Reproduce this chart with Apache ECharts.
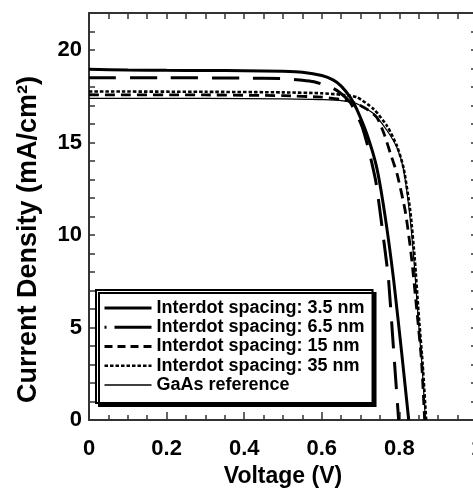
<!DOCTYPE html>
<html>
<head>
<meta charset="utf-8">
<script src="https://cdn.jsdelivr.net/npm/echarts@6/dist/echarts.min.js"></script>
<style>
  html, body { margin: 0; padding: 0; background: #fff; }
  #chart { width: 473px; height: 488px; }
</style>
</head>
<body>
<div id="chart"></div>
<script>
// values (V in volts, J in mA/cm2)
var seriesNames = ['Interdot spacing: 3.5 nm', 'Interdot spacing: 6.5 nm', 'Interdot spacing: 15 nm', 'Interdot spacing: 35 nm', 'GaAs reference']

var v35 = [0, 0.1, 0.2, 0.3, 0.4, 0.5, 0.55, 0.6, 0.63, 0.65, 0.673, 0.69, 0.717, 0.742, 0.764, 0.785, 0.805, 0.824]
var j35 = [18.96, 18.92, 18.9, 18.89, 18.88, 18.85, 18.8, 18.62, 18.37, 18.05, 17.45, 16.8, 15.4, 13.6, 10.9, 7.6, 3.8, 0]

var v65 = [0, 0.2, 0.4, 0.5, 0.55, 0.58, 0.62, 0.64, 0.67, 0.686, 0.704, 0.721, 0.74, 0.764, 0.772, 0.785, 0.798]
var j65 = [18.5, 18.5, 18.48, 18.45, 18.37, 18.28, 18.02, 17.8, 17.25, 16.7, 15.85, 14.6, 12.8, 9.0, 7.6, 3.8, 0]

var v15 = [0, 0.3, 0.5, 0.6, 0.65, 0.69, 0.72, 0.742, 0.76, 0.777, 0.794, 0.815, 0.83, 0.845, 0.857, 0.865]
var j15 = [17.58, 17.57, 17.53, 17.45, 17.33, 17.1, 16.75, 16.35, 15.5, 14.4, 13.3, 11.3, 9.0, 5.9, 3.2, 0]

var v350 = [0, 0.3, 0.5, 0.6, 0.65, 0.69, 0.734, 0.768, 0.794, 0.811, 0.828, 0.84, 0.849, 0.86, 0.869]
var j350 = [17.76, 17.74, 17.71, 17.66, 17.58, 17.45, 16.8, 15.9, 14.8, 13.6, 11.3, 8.6, 5.9, 3.0, 0]

var vRef = [0, 0.3, 0.5, 0.6, 0.68, 0.733, 0.768, 0.794, 0.81, 0.826, 0.838, 0.847, 0.858, 0.867]
var jRef = [17.38, 17.38, 17.36, 17.32, 17.18, 16.57, 15.65, 14.7, 13.6, 11.2, 8.5, 5.9, 3.0, 0]

var xTicks = [0, 0.2, 0.4, 0.6, 0.8, 1]
var yTicks = [0, 5, 10, 15, 20]

function pairs(xs, ys) {
  return xs.map(function (x, i) { return [x, ys[i]] })
}

var chart = echarts.init(document.getElementById('chart'), null, { renderer: 'canvas' })

var font = 'Liberation Sans, Arial, sans-serif'
var frameColor = '#333'

function lineSeries(name, data, width, type) {
  return {
    name: name,
    type: 'line',
    data: data,
    symbol: 'none',
    smooth: 0.2,
    animation: false,
    lineStyle: { color: '#000', width: width, type: type, cap: 'butt' },
    itemStyle: { color: '#000' }
  }
}

// frame axes (top / right) only carry ticks
var tickLine = { color: frameColor, width: 1.5 }

chart.setOption({
  backgroundColor: '#fff',
  // plot box runs past the right edge of the picture, like the reference crop
  grid: { left: 89, top: 13, width: 388, bottom: 68, outerBoundsMode: 'none' },
  legend: {
    orient: 'vertical',
    left: 96,
    top: 290,
    data: [
      { name: seriesNames[0] },
      { name: seriesNames[1], lineStyle: { type: [2, 8, 37, 10] } },
      { name: seriesNames[2], lineStyle: { type: [8, 5] } },
      { name: seriesNames[3] },
      { name: seriesNames[4], lineStyle: { width: 1.6 } }
    ],
    itemWidth: 47,
    itemHeight: 14,
    itemGap: 1.25,
    padding: [9, 8, 9, 7],
    backgroundColor: '#fff',
    borderColor: '#000',
    borderWidth: 2,
    shadowColor: '#000',
    shadowBlur: 0,
    shadowOffsetX: 3,
    shadowOffsetY: 3,
    lineStyle: { width: 'inherit' },
    itemStyle: { opacity: 0, color: 'transparent', borderWidth: 0 },
    textStyle: { fontFamily: font, fontWeight: 'bold', fontSize: 18, lineHeight: 18, color: '#000' }
  },
  xAxis: [{
    type: 'value',
    min: 0,
    max: 1,
    interval: 0.2,
    name: 'Voltage (V)',
    nameLocation: 'middle',
    nameGap: 45,
    nameTextStyle: { fontFamily: font, fontWeight: 'bold', fontSize: 23, color: '#000' },
    axisLine: { onZero: false, lineStyle: { color: frameColor, width: 2 } },
    axisTick: { inside: true, length: 8, lineStyle: tickLine },
    minorTick: { show: true, splitNumber: 4, length: 5, lineStyle: tickLine },
    splitLine: { show: false },
    minorSplitLine: { show: false },
    axisLabel: {
      margin: 18,
      fontFamily: font, fontWeight: 'bold', fontSize: 22, color: '#000',
      formatter: function (v) {
        var n = Number(v.toFixed(1))
        return xTicks.indexOf(n) >= 0 ? String(n) : ''
      }
    }
  }, {
    type: 'value',
    position: 'top',
    min: 0,
    max: 1,
    interval: 0.2,
    axisLine: { onZero: false, lineStyle: { color: frameColor, width: 2 } },
    axisTick: { inside: true, length: 6, lineStyle: tickLine },
    minorTick: { show: true, splitNumber: 4, length: 6, lineStyle: tickLine },
    splitLine: { show: false },
    axisLabel: { show: false }
  }],
  yAxis: [{
    type: 'value',
    min: 0,
    max: 22,
    interval: 1,
    name: 'Current Density (mA/cm²)',
    nameLocation: 'middle',
    nameGap: 47,
    nameTextStyle: { fontFamily: font, fontWeight: 'bold', fontSize: 27, color: '#000', padding: [0, 46, 0, 0] },
    axisLine: { onZero: false, lineStyle: { color: frameColor, width: 2 } },
    axisTick: { inside: true, length: 6, lineStyle: tickLine },
    splitLine: { show: false },
    axisLabel: {
      margin: 7,
      fontFamily: font, fontWeight: 'bold', fontSize: 22, color: '#000',
      formatter: function (v) { return yTicks.indexOf(v) >= 0 ? String(v) : '' }
    }
  }, {
    type: 'value',
    position: 'right',
    min: 0,
    max: 22,
    interval: 1,
    axisLine: { show: true, onZero: false, lineStyle: { color: frameColor, width: 2 } },
    axisTick: { show: true, inside: true, length: 6, lineStyle: tickLine },
    splitLine: { show: false },
    axisLabel: { show: false }
  }],
  series: [
    lineSeries(seriesNames[0], pairs(v35, j35), 3, 'solid'),
    lineSeries(seriesNames[1], pairs(v65, j65), 3, [27, 14]),
    lineSeries(seriesNames[2], pairs(v15, j15), 2.8, [10, 6]),
    lineSeries(seriesNames[3], pairs(v350, j350), 2.6, [3.5, 2]),
    lineSeries(seriesNames[4], pairs(vRef, jRef), 1.2, 'solid')
  ]
})
</script>
</body>
</html>
